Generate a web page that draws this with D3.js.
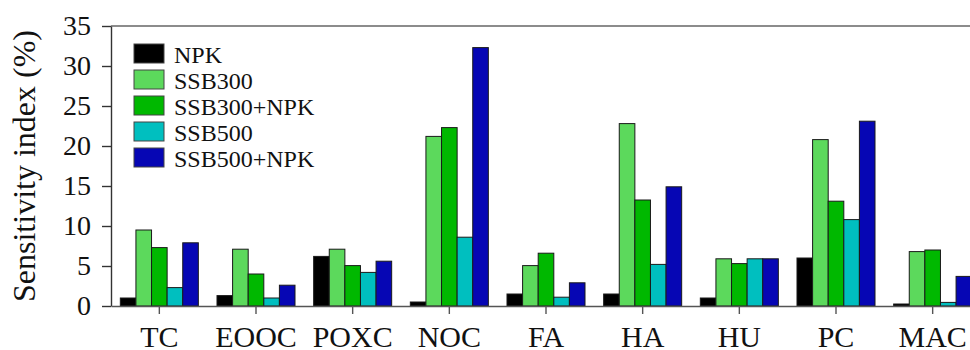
<!DOCTYPE html>
<html>
<head>
<meta charset="utf-8">
<script src="https://cdn.jsdelivr.net/npm/d3@7"></script>
<style>
  html, body { margin: 0; padding: 0; background: #fff; }
  svg { display: block; font-family: "Liberation Serif", "Times New Roman", serif; }
</style>
</head>
<body>
<svg id="chart" width="970" height="350"></svg>
<script>
const categories = ["TC", "EOOC", "POXC", "NOC", "FA", "HA", "HU", "PC", "MAC"];
const seriesNames = ["NPK", "SSB300", "SSB300+NPK", "SSB500", "SSB500+NPK"];
const npk       = [1.0, 1.3, 6.2, 0.5, 1.5, 1.5, 1.0, 6.0, 0.25];
const ssb300    = [9.5, 7.1, 7.1, 21.2, 5.05, 22.8, 5.9, 20.8, 6.8];
const ssb300npk = [7.3, 4.0, 5.05, 22.3, 6.6, 13.25, 5.3, 13.1, 7.0];
const ssb500    = [2.3, 1.0, 4.2, 8.6, 1.1, 5.2, 5.9, 10.8, 0.45];
const ssb500npk = [7.9, 2.6, 5.6, 32.3, 2.9, 14.9, 5.9, 23.1, 3.7];
const yTicks = [0, 5, 10, 15, 20, 25, 30, 35];
const colors = ["#000000", "#5cd95c", "#00b800", "#00bfbf", "#0606b4"];

const seriesValues = [npk, ssb300, ssb300npk, ssb500, ssb500npk];

const svg = d3.select("#chart");
const mLeft = 111, mRight = 981, mTop = 26, mBottom = 306;

const x0 = d3.scaleBand().domain(categories).range([mLeft, mRight])
  .paddingInner(0.193).paddingOuter(0.0965);
const x1 = d3.scaleBand().domain(seriesNames).range([0, x0.bandwidth()]);
const y = d3.scaleLinear().domain([0, 35]).range([mBottom, mTop]);

// top frame line
svg.append("line")
  .attr("x1", mLeft).attr("x2", mRight).attr("y1", mTop).attr("y2", mTop)
  .attr("stroke", "#666").attr("stroke-width", 1.6);

// bars
const groups = svg.append("g").selectAll("g")
  .data(categories).join("g")
  .attr("transform", d => `translate(${x0(d)},0)`);

groups.selectAll("rect")
  .data((c, i) => seriesNames.map((s, k) => ({ s, k, v: seriesValues[k][i] })))
  .join("rect")
  .attr("x", d => x1(d.s))
  .attr("width", x1.bandwidth())
  .attr("y", d => y(d.v))
  .attr("height", d => y(0) - y(d.v))
  .attr("fill", d => colors[d.k])
  .attr("stroke", "#1a1a1a")
  .attr("stroke-width", 1);

// y axis
const yAxis = svg.append("g")
  .attr("transform", `translate(${mLeft},0)`)
  .call(d3.axisLeft(y).tickValues(yTicks).tickSize(9).tickPadding(11).tickSizeOuter(0));
yAxis.select(".domain").attr("stroke", "#333").attr("stroke-width", 1.4);
yAxis.selectAll(".tick line").attr("stroke", "#333").attr("stroke-width", 1.4);
yAxis.selectAll("text").attr("font-size", 28).attr("fill", "#111")
  .attr("font-family", "Liberation Serif, Times New Roman, serif");

// x axis
const xAxis = svg.append("g")
  .attr("transform", `translate(0,${mBottom})`)
  .call(d3.axisBottom(x0).tickSize(8).tickPadding(12).tickSizeOuter(0));
xAxis.select(".domain").attr("stroke", "#555").attr("stroke-width", 1.6);
xAxis.selectAll(".tick line").attr("stroke", "#555").attr("stroke-width", 1.4);
xAxis.selectAll("text").attr("font-size", 30).attr("fill", "#111")
  .attr("font-family", "Liberation Serif, Times New Roman, serif");

// y title
svg.append("text")
  .attr("transform", `translate(35,${(mTop + mBottom) / 2}) rotate(-90)`)
  .attr("text-anchor", "middle")
  .attr("font-size", 32)
  .attr("fill", "#111")
  .text("Sensitivity index (%)");

// legend
const legend = svg.append("g").attr("transform", "translate(134,44)");
const li = legend.selectAll("g").data(seriesNames).join("g")
  .attr("transform", (d, i) => `translate(0,${i * 26})`);
li.append("rect")
  .attr("width", 30).attr("height", 19)
  .attr("fill", (d, i) => colors[i])
  .attr("stroke", "#444").attr("stroke-width", 1);
li.append("text")
  .attr("x", 40).attr("y", 19)
  .attr("font-size", 24)
  .attr("fill", "#111")
  .text(d => d);
</script>
</body>
</html>
